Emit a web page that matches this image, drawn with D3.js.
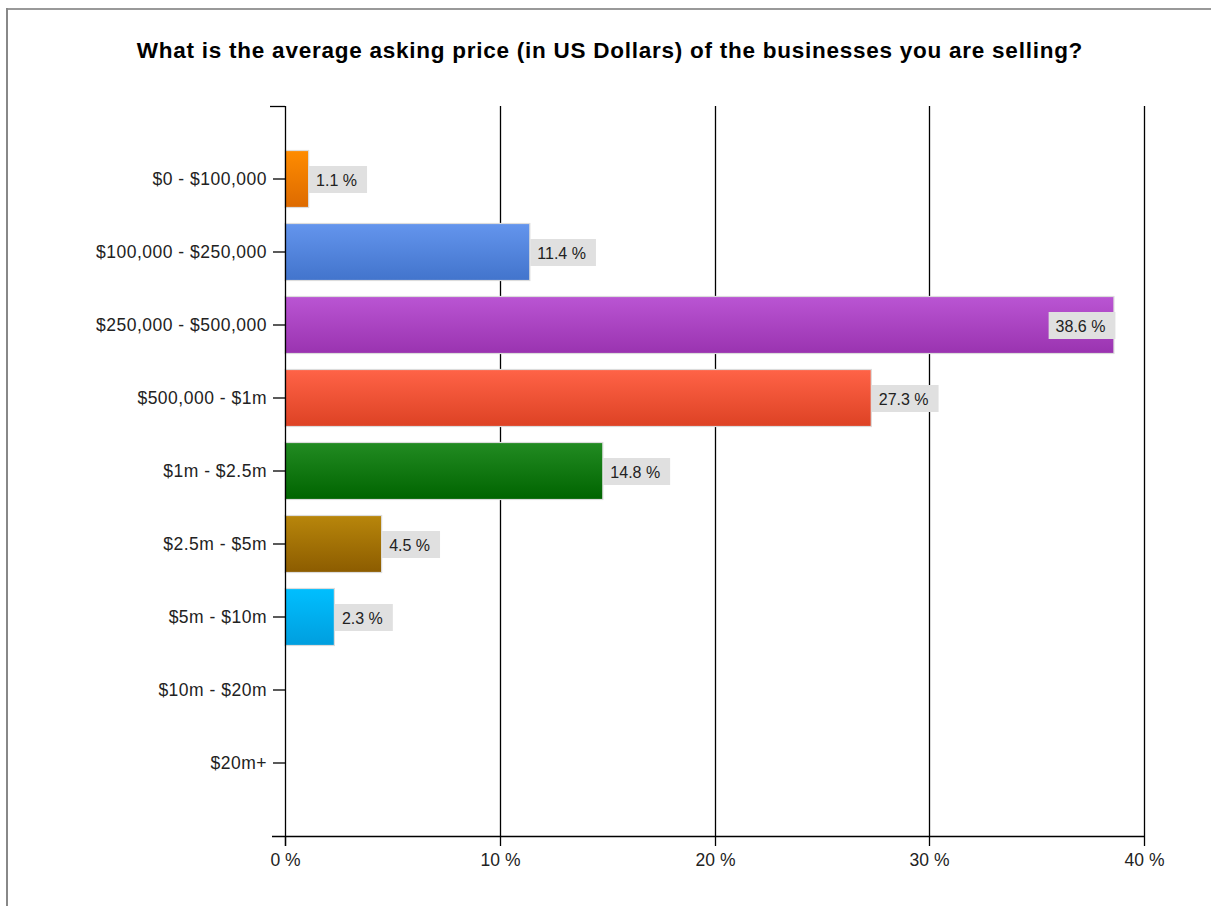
<!DOCTYPE html>
<html>
<head>
<meta charset="utf-8">
<script src="https://cdn.jsdelivr.net/npm/d3@7"></script>
<style>
  html, body { margin: 0; padding: 0; background: #fff; }
  svg { display: block; }
  text { font-family: "Liberation Sans", Arial, sans-serif; }
</style>
</head>
<body>
<svg id="chart" width="1211" height="906"></svg>
<script>
// Survey answers: share of respondents per asking-price bracket
const categories = [
  "$0 - $100,000",
  "$100,000 - $250,000",
  "$250,000 - $500,000",
  "$500,000 - $1m",
  "$1m - $2.5m",
  "$2.5m - $5m",
  "$5m - $10m",
  "$10m - $20m",
  "$20m+"
];
const values = [1.1, 11.4, 38.6, 27.3, 14.8, 4.5, 2.3, 0, 0];
const topColors    = ["#ff8c00", "#6495ed", "#ba55d3", "#ff6347", "#228b22", "#b8860b", "#00bfff", "#999", "#999"];
const bottomColors = ["#dd6a00", "#4274cc", "#9a33b0", "#dd4224", "#006400", "#8c5c00", "#009ede", "#777", "#777"];
const xTicks = [0, 10, 20, 30, 40];
const title = "What is the average asking price (in US Dollars) of the businesses you are selling?";

const svg = d3.select("#chart");

// outer frame
svg.append("line").attr("x1", 7).attr("x2", 1211).attr("y1", 9).attr("y2", 9)
  .attr("stroke", "#999").attr("stroke-width", 2);
svg.append("line").attr("x1", 7).attr("x2", 7).attr("y1", 8).attr("y2", 906)
  .attr("stroke", "#888").attr("stroke-width", 2);

// title
svg.append("text")
  .attr("x", 610).attr("y", 58)
  .attr("text-anchor", "middle")
  .attr("font-size", 22.5).attr("font-weight", "bold")
  .attr("letter-spacing", 0.75)
  .attr("fill", "#000")
  .text(title);

const plotLeft = 285, plotRight = 1144, plotTop = 106, plotBottom = 836;

const x = d3.scaleLinear().domain([0, 40]).range([plotLeft, plotRight]);
const y = d3.scalePoint().domain(categories).range([plotTop, plotBottom]).padding(1);
const barH = 57;

// gradients
const defs = svg.append("defs");
categories.forEach((c, i) => {
  const g = defs.append("linearGradient").attr("id", "grad" + i)
    .attr("x1", 0).attr("y1", 0).attr("x2", 0).attr("y2", 1);
  g.append("stop").attr("offset", "0%").attr("stop-color", topColors[i]);
  g.append("stop").attr("offset", "100%").attr("stop-color", bottomColors[i]);
});

// vertical gridlines
svg.append("g").selectAll("line")
  .data(xTicks.filter(t => t > 0))
  .join("line")
  .attr("x1", d => Math.round(x(d)) + 0.5).attr("x2", d => Math.round(x(d)) + 0.5)
  .attr("y1", plotTop).attr("y2", plotBottom)
  .attr("stroke", "#000").attr("stroke-width", 1.3);

// bars
svg.append("g").selectAll("rect")
  .data(values.map((v, i) => ({ v, i })).filter(d => d.v > 0))
  .join("rect")
  .attr("x", x(0))
  .attr("y", d => y(categories[d.i]) - barH / 2)
  .attr("width", d => x(d.v) - x(0))
  .attr("height", barH)
  .attr("fill", d => `url(#grad${d.i})`)
  .attr("stroke", "#dcdcdc").attr("stroke-width", 1.2);

// value labels
const labels = svg.append("g");
values.forEach((v, i) => {
  if (v <= 0) return;
  const cy = y(categories[i]);
  const g = labels.append("g");
  const rect = g.append("rect").attr("fill", "#e0e0e0");
  const t = g.append("text")
    .attr("font-size", 16).attr("fill", "#222")
    .attr("dominant-baseline", "central")
    .text(v.toFixed(1) + " %");
  const w = t.node().getComputedTextLength() + 17;
  const h = 27;
  let bx = x(v) + 0.5;
  if (bx + w > plotRight) bx = x(v) + 1.5 - w;
  rect.attr("x", bx).attr("y", cy - h / 2 + 0.5).attr("width", w).attr("height", h);
  t.attr("x", bx + 7).attr("y", cy + 1);
});

// y axis
const yAxis = svg.append("g").attr("transform", `translate(${plotLeft},0)`);
yAxis.append("line").attr("x1", 0.5).attr("x2", 0.5).attr("y1", plotTop).attr("y2", plotBottom + 10)
  .attr("stroke", "#000").attr("stroke-width", 1.3);
yAxis.append("line").attr("x1", -15).attr("x2", 0).attr("y1", plotTop + 0.5).attr("y2", plotTop + 0.5)
  .attr("stroke", "#000").attr("stroke-width", 1.3);
yAxis.selectAll("g.tick")
  .data(categories)
  .join("g").attr("class", "tick")
  .attr("transform", d => `translate(0,${y(d)})`)
  .call(g => {
    g.append("line").attr("x1", -12).attr("x2", 0).attr("stroke", "#000").attr("stroke-width", 1.3);
    g.append("text").attr("x", -18).attr("dy", "0.36em")
      .attr("text-anchor", "end").attr("font-size", 17.5).attr("letter-spacing", 0.5)
      .attr("fill", "#222")
      .text(d => d);
  });

// x axis
const xAxis = svg.append("g").attr("transform", `translate(0,${plotBottom})`);
xAxis.append("line").attr("x1", plotLeft - 13).attr("x2", plotRight).attr("y1", 0.5).attr("y2", 0.5)
  .attr("stroke", "#000").attr("stroke-width", 1.3);
xAxis.selectAll("g.tick")
  .data(xTicks)
  .join("g").attr("class", "tick")
  .attr("transform", d => `translate(${Math.round(x(d)) + 0.5},0)`)
  .call(g => {
    g.append("line").attr("y1", 0).attr("y2", 10).attr("stroke", "#000").attr("stroke-width", 1.3);
    g.append("text").attr("y", 30)
      .attr("text-anchor", "middle").attr("font-size", 17.5).attr("fill", "#222")
      .text(d => d + " %");
  });
</script>
</body>
</html>
